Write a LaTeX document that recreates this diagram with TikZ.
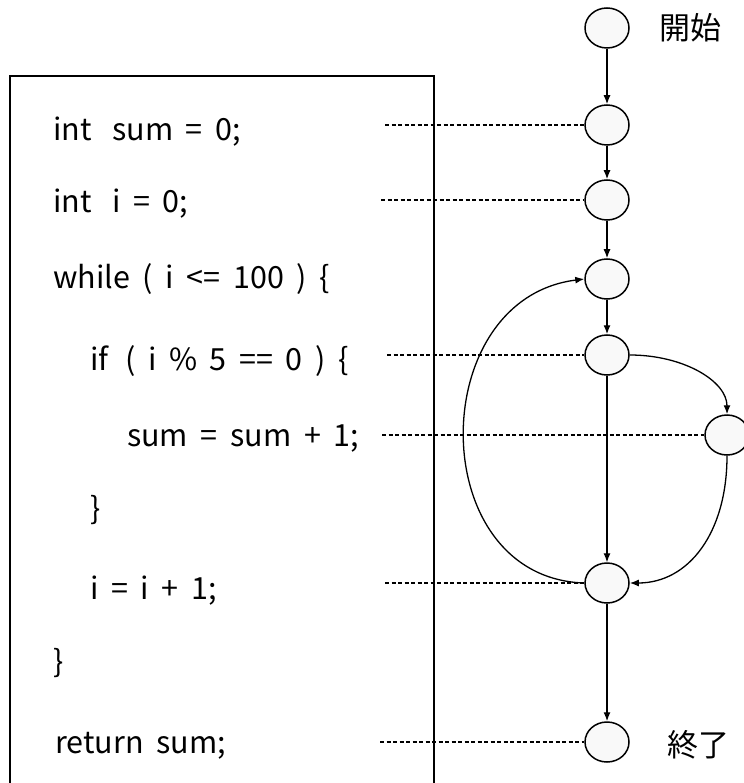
\documentclass[tikz,border=0pt]{standalone}
\usepackage{fontspec}
\setmainfont{Noto Sans CJK JP}
\newfontfamily\codefont[WordSpace=1.85]{Noto Sans CJK JP}
\usetikzlibrary{arrows.meta,shapes.geometric}
\begin{document}
\begin{tikzpicture}[x=1pt,y=-1pt,
  state/.style={ellipse,draw,line width=1.5pt,fill=gray!5,minimum width=44pt,minimum height=40pt,inner sep=0pt},
  code/.style={anchor=base west,inner sep=0pt,font=\codefont\fontsize{30.5}{30.5}\selectfont},
  jp/.style={inner sep=0pt,font=\fontsize{31}{31}\selectfont},
  flow/.style={line width=1.3pt,-{Latex[length=9pt,width=7pt]}},
  link/.style={line width=1.3pt,dash pattern=on 4pt off 2.5pt}]
\useasboundingbox (0,0) rectangle (743,783);
% code box
\draw[line width=1.3pt] (10,783) -- (10,76) -- (434,76) -- (434,783);
% code lines
\node[code] (c1) at (53,141) {int\hspace{8pt} sum = 0;};
\node[code] (c2) at (53,213) {int\hspace{8pt} i = 0;};
\node[code] (c3) at (53,288) {while ( i <= 100 ) \{};
\node[code] (c4) at (90,370) {if\hspace{4pt} ( i \% 5 == 0 ) \{};
\node[code] (c5) at (127,446) {sum = sum + 1;};
\node[code] (c6) at (90,519) {\}};
\node[code] (c7) at (90,599) {i = i + 1;};
\node[code] (c8) at (53,672) {\}};
\node[code] (c9) at (55,753) {return sum;};
% graph nodes
\node[state] (s)  at (607,28)  {};
\node[state] (n1) at (607,125) {};
\node[state] (n2) at (607,200) {};
\node[state] (n3) at (607,279) {};
\node[state] (n4) at (607,355) {};
\node[state] (n5) at (727,435) {};
\node[state] (n6) at (607,583) {};
\node[state] (e)  at (607,742) {};
\node[jp] (ls) at (690,28) {開始};
\node[jp] (le) at (698,745) {終了};
% dashed links
\coordinate (d1) at (385,125);
\coordinate (d2) at (381,200);
\coordinate (d4) at (387,355);
\coordinate (d5) at (382,435);
\coordinate (d6) at (385,583);
\coordinate (d9) at (380,742);
\draw[link] (d1) -- (n1.west);
\draw[link] (d2) -- (n2.west);
\draw[link] (d4) -- (n4.west);
\draw[link] (d5) -- (n5.west);
\draw[link] (d6) -- (n6.west);
\draw[link] (d9) -- (e.west);
% flow edges
\draw[flow] (s) -- (n1);
\draw[flow] (n1) -- (n2);
\draw[flow] (n2) -- (n3);
\draw[flow] (n3) -- (n4);
\draw[flow,line width=1.1pt] (n4) -- (n6);
\draw[flow] (n6) -- (e);
\draw[flow] (n4.east) .. controls +(54,0) and +(0,-33) .. (n5.north);
\draw[flow] (n5.south) .. controls +(0,77) and +(59,0) .. (n6.east);
\draw[flow] (n6.west) .. controls +(-160,-5) and +(-160,20) .. (n3.west);
\end{tikzpicture}
\end{document}
